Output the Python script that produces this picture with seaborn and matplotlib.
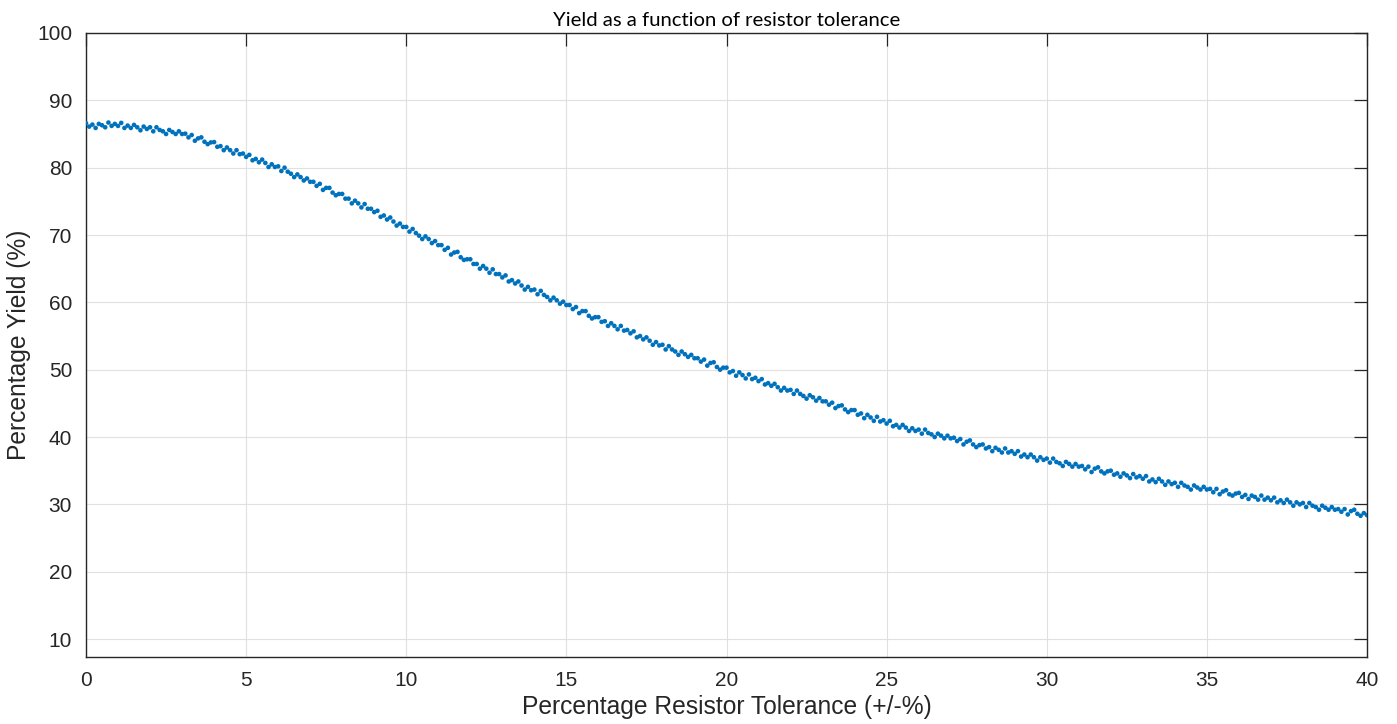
import numpy as np
import pandas as pd
import matplotlib
matplotlib.use("Agg")
import matplotlib.pyplot as plt
import seaborn as sns

# Percentage resistor tolerance sweep (0 .. 40 %, step 0.1)
tolerance = np.linspace(0, 40, 401)

# Percentage yield, one row per 1 % of tolerance
yield_rows = [
    [86.6, 86.1, 86.4, 85.9, 86.5, 86.3, 86.0, 86.7, 86.2, 86.5],
    [86.2, 86.65, 85.9, 86.25, 85.9, 86.35, 86.0, 85.55, 86.1, 85.75],
    [86.0, 85.4, 86.0, 85.6, 85.4, 85.0, 85.6, 85.3, 85.0, 85.4],
    [85.0, 85.05, 84.5, 84.85, 84.0, 84.35, 84.5, 83.85, 83.5, 83.75],
    [83.8, 83.1, 83.2, 82.6, 83.0, 82.6, 82.1, 82.6, 82.0, 82.1],
    [81.6, 81.9, 81.1, 81.3, 80.8, 81.2, 80.7, 80.1, 80.5, 80.1],
    [80.2, 79.5, 80.0, 79.4, 79.1, 78.6, 79.0, 78.6, 78.1, 78.4],
    [77.9, 77.9, 77.3, 77.6, 76.7, 77.0, 77.0, 76.3, 75.9, 76.1],
    [76.1, 75.4, 75.4, 74.7, 75.1, 74.7, 74.1, 74.6, 73.9, 73.9],
    [73.4, 73.6, 72.7, 72.9, 72.3, 72.6, 72.0, 71.4, 71.7, 71.2],
    [71.2, 70.5, 70.9, 70.3, 69.9, 69.4, 69.8, 69.4, 68.8, 69.1],
    [68.5, 68.5, 67.8, 68.1, 67.1, 67.4, 67.5, 66.7, 66.3, 66.4],
    [66.4, 65.7, 65.7, 65.0, 65.4, 65.0, 64.4, 64.9, 64.2, 64.2],
    [63.7, 64.0, 63.1, 63.3, 62.8, 63.1, 62.5, 61.9, 62.3, 61.8],
    [61.9, 61.2, 61.7, 61.1, 60.8, 60.3, 60.7, 60.3, 59.8, 60.1],
    [59.6, 59.6, 59.0, 59.3, 58.4, 58.7, 58.7, 58.0, 57.6, 57.8],
    [57.8, 57.1, 57.2, 56.5, 56.9, 56.5, 56.0, 56.5, 55.8, 55.9],
    [55.4, 55.7, 54.8, 55.0, 54.5, 54.8, 54.3, 53.7, 54.1, 53.6],
    [53.7, 53.0, 53.5, 53.0, 52.7, 52.2, 52.7, 52.3, 51.9, 52.2],
    [51.7, 51.7, 51.2, 51.5, 50.6, 51.0, 51.1, 50.4, 50.0, 50.3],
    [50.3, 49.6, 49.8, 49.1, 49.6, 49.2, 48.7, 49.3, 48.6, 48.8],
    [48.3, 48.6, 47.8, 48.0, 47.6, 47.9, 47.4, 46.9, 47.3, 46.9],
    [47.0, 46.4, 46.9, 46.4, 46.1, 45.7, 46.2, 45.9, 45.4, 45.8],
    [45.3, 45.3, 44.8, 45.1, 44.3, 44.6, 44.7, 44.1, 43.7, 44.0],
    [44.0, 43.3, 43.5, 42.8, 43.3, 42.9, 42.4, 43.0, 42.3, 42.5],
    [42.0, 42.4, 41.6, 41.8, 41.4, 41.8, 41.4, 40.9, 41.3, 40.9],
    [41.1, 40.5, 41.1, 40.6, 40.4, 40.0, 40.5, 40.2, 39.8, 40.2],
    [39.8, 39.9, 39.4, 39.7, 38.9, 39.3, 39.5, 38.9, 38.5, 38.8],
    [38.9, 38.3, 38.5, 37.9, 38.4, 38.1, 37.7, 38.3, 37.7, 37.9],
    [37.5, 37.9, 37.1, 37.4, 37.0, 37.4, 37.0, 36.5, 37.0, 36.6],
    [36.8, 36.2, 36.8, 36.3, 36.1, 35.7, 36.3, 36.0, 35.6, 36.0],
    [35.6, 35.7, 35.2, 35.6, 34.8, 35.3, 35.5, 34.9, 34.6, 34.9],
    [35.0, 34.4, 34.6, 34.1, 34.6, 34.3, 33.9, 34.5, 34.0, 34.2],
    [33.8, 34.2, 33.4, 33.7, 33.3, 33.8, 33.4, 32.9, 33.4, 33.0],
    [33.2, 32.6, 33.2, 32.8, 32.6, 32.2, 32.8, 32.5, 32.2, 32.6],
    [32.2, 32.3, 31.8, 32.3, 31.5, 31.9, 32.1, 31.5, 31.3, 31.6],
    [31.7, 31.1, 31.4, 30.8, 31.3, 31.1, 30.7, 31.3, 30.7, 31.0],
    [30.6, 31.0, 30.3, 30.6, 30.2, 30.7, 30.3, 29.8, 30.3, 30.0],
    [30.2, 29.6, 30.2, 29.8, 29.6, 29.2, 29.8, 29.5, 29.2, 29.6],
    [29.2, 29.3, 28.9, 29.3, 28.5, 29.0, 29.2, 28.6, 28.3, 28.7],
    [28.4],
]
yield_pct = [v for row in yield_rows for v in row]

x_ticks = [0, 5, 10, 15, 20, 25, 30, 35, 40]
y_ticks = [10, 20, 30, 40, 50, 60, 70, 80, 90, 100]

title_text = "Yield as a function of resistor tolerance"
x_label = "Percentage Resistor Tolerance (+/-%)"
y_label = "Percentage Yield (%)"

df = pd.DataFrame({"tol": tolerance, "yield": yield_pct})

sns.set_style("white")
plt.rcParams["font.family"] = ["Liberation Sans", "DejaVu Sans"]

text_col = "#262626"
fig = plt.figure(figsize=(13.97, 7.24), dpi=100)
ax = fig.add_axes([86 / 1397, 1 - 657 / 724, (1367 - 86) / 1397, (657 - 33) / 724])

sns.scatterplot(data=df, x="tol", y="yield", ax=ax, color="#0072BD",
                s=11, linewidth=0, edgecolor="none", zorder=3)

ax.set_xlim(0, 40)
ax.set_ylim(7.33, 100)
ax.set_xticks(x_ticks)
ax.set_yticks(y_ticks)
ax.grid(True, color="#e0e0e0", linewidth=0.8)
ax.set_axisbelow(True)
for sp in ax.spines.values():
    sp.set_visible(True)
    sp.set_color(text_col)
    sp.set_linewidth(1.0)
ax.tick_params(axis="both", which="both", direction="in", length=9.4, width=0.9,
               color=text_col, labelcolor=text_col, labelsize=15,
               top=True, right=True, pad=10)

ax.set_xlabel(x_label, fontsize=17.7, color=text_col, labelpad=4)
ax.set_ylabel(y_label, fontsize=17.7, color=text_col, labelpad=4)
ax.set_title(title_text, fontsize=14.6, color="black", pad=5,
             family=["Lato", "DejaVu Sans"])

fig.savefig("out.png", dpi=100)
